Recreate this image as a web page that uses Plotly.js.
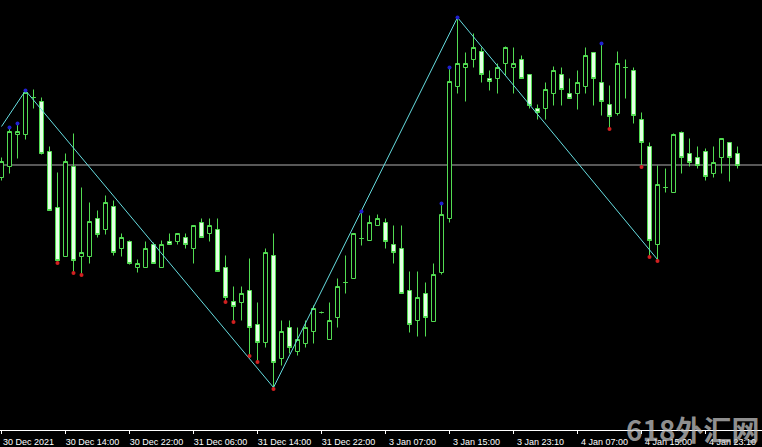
<!DOCTYPE html>
<html>
<head>
<meta charset="utf-8">
<script src="https://cdn.plot.ly/plotly-3.0.1.min.js"></script>
<style>
  html, body { margin: 0; padding: 0; background: #000; }
  #chart { width: 762px; height: 447px; }
</style>
</head>
<body>
<div id="chart"></div>
<script>
// H1 bars, values (arbitrary price units)
const opens = [253,264,296,296,333,329,279,223,174,264,174,174,212,201,224,182,189,163,163,186,
  163,189,189,193,182,208,197,201,163,129,128,140,106,88,175,72,103,79,87,99,
  118,91,113,148,152,192,190,205,208,186,182,140,110,137,109,158,212,344,363,371,
  379,352,352,367,363,371,356,322,322,337,356,337,337,344,378,348,326,317,363,360,
  311,284,186,243,238,298,277,273,279,257,273,288,277];
const highs = [273,303,307,340,341,333,284,258,277,297,243,228,220,235,230,197,190,171,189,188,
  190,197,197,197,205,212,212,212,175,144,144,172,128,182,197,110,110,103,110,125,
  119,128,152,175,197,219,215,216,212,205,205,159,159,148,167,227,363,413,378,397,
  383,360,367,384,383,375,356,326,348,364,363,352,360,383,378,387,345,379,371,363,
  318,288,265,262,297,299,292,284,282,284,292,288,284];
const lows = [250,257,272,291,322,276,220,169,174,159,157,167,193,196,175,174,166,158,163,167,
  163,186,186,182,167,193,189,159,130,110,110,76,70,83,43,65,77,75,83,87,
  117,91,103,137,152,185,190,205,182,167,137,98,94,94,109,156,208,337,329,363,
  348,340,337,355,337,352,322,311,311,325,325,332,321,337,325,315,303,315,332,307,
  265,175,171,238,238,257,264,262,250,253,257,249,262];
const closes = [269,299,299,338,333,277,220,170,269,170,178,209,196,228,178,193,167,167,182,167,
  186,186,197,186,205,193,205,159,133,124,137,103,88,178,68,99,83,91,103,122,
  118,110,144,148,197,192,208,212,189,178,137,106,133,113,156,216,349,367,367,383,
  356,349,363,383,367,352,325,318,341,360,341,332,348,375,352,329,314,367,363,315,
  288,190,246,243,296,273,268,265,254,268,292,273,265];

// x-axis tick labels (every 8 bars)
const tickBars = [0,8,16,24,32,40,48,56,64,72,80,88];
const tickLabels = ["30 Dec 2021","30 Dec 14:00","30 Dec 22:00","31 Dec 06:00","31 Dec 14:00","31 Dec 22:00",
  "3 Jan 07:00","3 Jan 15:00","3 Jan 23:10","4 Jan 07:00","4 Jan 15:00","4 Jan 23:10"];

// ZigZag vertices (bar index, price)
const zigzagBars = [0,3,34,57,82];
const zigzagPrices = [304,340,43,413,171];

// fractal markers (bar indexes)
const upFractalBars = [1,2,3,45,55,56,57,75];
const downFractalBars = [7,9,10,28,29,31,32,34,76,80,81,82];

// current price line
const bidPrice = 265.5;

const bars = opens.map((_, i) => i);
const green = '#52dc52';

const traces = [
  {
    type: 'candlestick',
    x: bars, open: opens, high: highs, low: lows, close: closes,
    increasing: { line: { color: green, width: 1 }, fillcolor: '#000000' },
    decreasing: { line: { color: green, width: 1 }, fillcolor: '#e4ffe4' },
    whiskerwidth: 0,
    hoverinfo: 'skip',
    showlegend: false
  },
  {
    type: 'scatter', mode: 'lines',
    x: zigzagBars, y: zigzagPrices,
    line: { color: '#66dde0', width: 1 },
    hoverinfo: 'skip', showlegend: false
  },
  {
    type: 'scatter', mode: 'markers',
    x: upFractalBars, y: upFractalBars.map(i => highs[i]),
    marker: { color: '#2020d0', size: 4 },
    hoverinfo: 'skip', showlegend: false
  },
  {
    type: 'scatter', mode: 'markers',
    x: downFractalBars, y: downFractalBars.map(i => lows[i] - 1.5),
    marker: { color: '#d02020', size: 4 },
    hoverinfo: 'skip', showlegend: false
  }
];

const layout = {
  width: 762, height: 447,
  margin: { l: 0, r: 0, t: 0, b: 17, pad: 0 },
  paper_bgcolor: '#000000',
  plot_bgcolor: '#000000',
  showlegend: false,
  boxgap: 0.2857,
  boxgroupgap: 0.3,
  xaxis: {
    type: 'linear',
    range: [-0.1875, 95.0625],
    rangeslider: { visible: false },
    showgrid: false, zeroline: false,
    showline: true, linecolor: '#ffffff', linewidth: 1,
    ticks: 'outside', ticklen: 3, tickcolor: '#ffffff', tickwidth: 1,
    tickmode: 'array', tickvals: tickBars, ticktext: tickLabels,
    ticklabelshift: 27,
    tickfont: { family: 'Liberation Sans, Arial, sans-serif', size: 9, color: '#ffffff' }
  },
  yaxis: {
    range: [0.5, 430.5],
    showgrid: false, zeroline: false, showline: false,
    showticklabels: false, ticks: ''
  },
  shapes: [
    { type: 'line', xref: 'paper', x0: 0, x1: 1, yref: 'y', y0: bidPrice, y1: bidPrice,
      line: { color: '#b0b0b0', width: 1 }, layer: 'below' }
  ],
  annotations: [
    { text: '<b>618外汇网</b>', xref: 'paper', yref: 'paper', x: 1, y: 0,
      xanchor: 'right', yanchor: 'middle', xshift: 0, yshift: 1, showarrow: false,
      font: { family: 'Noto Sans CJK SC, sans-serif', size: 28, color: 'rgba(200,200,200,0.72)' } }
  ]
};

Plotly.newPlot('chart', traces, layout, { staticPlot: true, displayModeBar: false });
</script>
</body>
</html>
